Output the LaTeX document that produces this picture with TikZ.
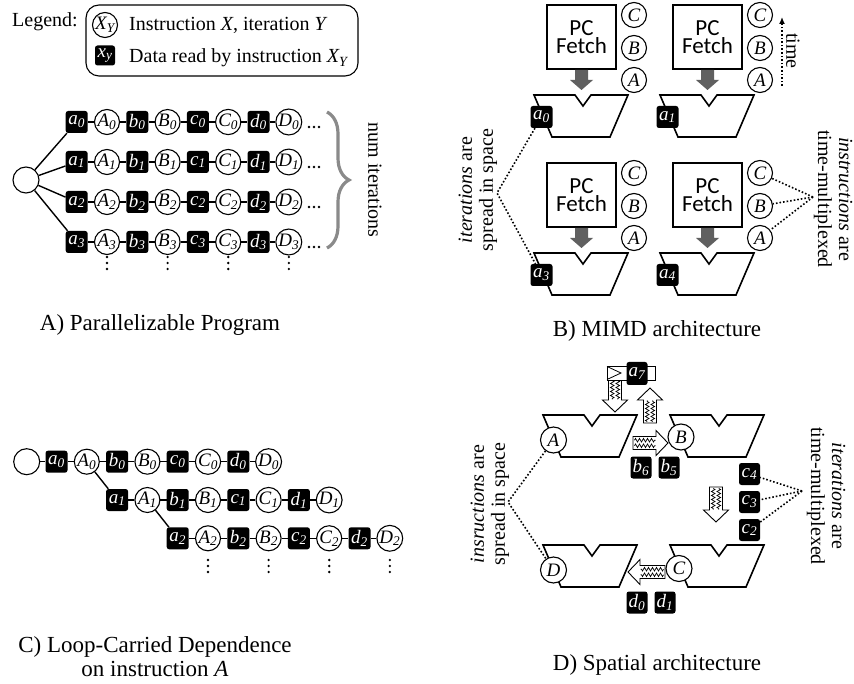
\documentclass[tikz,border=0pt]{standalone}
\usepackage{fontspec}
\setmainfont{Liberation Serif}
\newfontfamily\pcfont{Carlito}
\usetikzlibrary{arrows.meta,decorations.pathreplacing,decorations.pathmorphing}

\newcommand\sub[2]{#1\textsubscript{#2}}

\definecolor{fetchgray}{HTML}{606060}
\definecolor{bracegray}{HTML}{8A8A8A}

\tikzset{
  inst/.style={circle, draw, line width=1.1pt, fill=white, minimum size=25pt, inner sep=0pt, font=\fontsize{19}{19}\selectfont\itshape},
  datum/.style={rounded corners=2.5pt, fill=black, text=white, minimum width=22pt, minimum height=22pt, inner sep=0pt, font=\fontsize{19}{19}\selectfont\itshape},
  startc/.style={circle, draw, line width=1.1pt, fill=white, minimum size=26pt, inner sep=0pt},
  link/.style={line width=1.4pt},
  dotline/.style={dotted, line width=1.6pt},
  note/.style={font=\fontsize{20}{21}\selectfont, align=center, inner sep=0pt},
  capt/.style={font=\fontsize{23}{24}\selectfont, align=center, inner sep=0pt},
  fetchbox/.style={draw, line width=1.4pt, fill=white, font=\fontsize{23}{18.5}\pcfont, align=center, inner sep=0pt},
}

% functional unit: trapezoid with an operand notch, top-left corner at (#1,#2)
\newcommand\alu[2]{\draw[line width=1.6pt, line join=miter] ({#1},{#2}) -- ++(41,0) -- ++(8,11) -- ++(8,-11) -- ++(37,0) -- ++(-18,42) -- ++(-58,0) -- cycle;}

% hollow block arrow with a zigzag shaft: tail (#1,#2), length #3, angle #4
\newcommand\zzarrow[4]{%
  \begin{scope}[shift={(#1,#2)}, rotate=#4]
    \draw[line width=0.9pt, fill=white, line join=miter] (0,-6.5) -- ({#3-12},-6.5) -- ({#3-12},-12.5) -- (#3,0) -- ({#3-12},12.5) -- ({#3-12},6.5) -- (0,6.5) -- cycle;
    \draw[line width=0.7pt, decorate, decoration={zigzag, segment length=4pt, amplitude=1.8pt}] (1.5,-2.8) -- ({#3-12.5},-2.8);
    \draw[line width=0.7pt, decorate, decoration={zigzag, segment length=4pt, amplitude=1.8pt}] (1.5,2.8) -- ({#3-12.5},2.8);
  \end{scope}}

% one MIMD core: name, trapezoid top-left x, y, data letter, index
\newcommand\mimdunit[5]{%
  \alu{#2}{#3}
  \node[fetchbox, minimum width=69pt, minimum height=64pt] (#1-pc) at ({#2+47.5},{#3-58}) {PC\\Fetch};
  \begin{scope}[shift={({#2+47.5},{#3-25})}]
    \fill[fetchgray] (-6.5,0) -- (6.5,0) -- (6.5,10) -- (11.5,10) -- (0,20) -- (-11.5,10) -- (-6.5,10) -- cycle;
  \end{scope}
  \node[inst] (#1-C) at ({#2+100},{#3-80}) {C};
  \node[inst] (#1-B) at ({#2+100},{#3-47}) {B};
  \node[inst] (#1-A) at ({#2+100},{#3-15}) {A};
  \node[datum] (#1-d) at ({#2+7.5},{#3+22}) {\sub{#4}{#5}};
}

\begin{document}
\begin{tikzpicture}[x=1pt, y=-1pt]
\fill[white] (0,0) rectangle (854,684);
\useasboundingbox (0,0) rectangle (854,684);

% ---------------- legend ----------------
\node[draw, rounded corners=13pt, line width=1.1pt, minimum width=272pt, minimum height=71pt] (lg) at (222,40.5) {};
\node[note, anchor=base west] (lg-t) at (12,27) {Legend:};
\node[inst] (lg-c) at (105,25) {\sub{X}{Y}};
\node[datum, minimum width=20pt, minimum height=20pt] (lg-d) at (105,55.5) {\sub{x}{y}};
\node[note, anchor=base west] (lg-1) at (129,31) {Instruction \textit{X}, iteration \textit{Y}};
\node[note, anchor=base west] (lg-2) at (129,63) {Data read by instruction \textit{X\textsubscript{Y}}};

% ---------------- A) parallel program ----------------
\node[startc] (pa-s) at (26,180) {};
\foreach \row/\yy in {0/122,1/162,2/202,3/242} {
  \foreach \lc/\uc [count=\kk from 0] in {a/A,b/B,c/C,d/D} {
    \node[datum] (pa\row-\lc) at ({76.7+60.6*\kk},\yy) {\sub{\lc}{\row}};
    \node[inst] (pa\row-\uc) at ({107+60.6*\kk},\yy) {\sub{\uc}{\row}};
  }
  \draw[link] (pa-s) -- (pa\row-a);
  \foreach \p/\q in {a/A,A/b,b/B,B/c,c/C,C/d,d/D} \draw[link] (pa\row-\p) -- (pa\row-\q);
  \foreach \dx in {0,1,2} \fill ({309+5*\dx},{\yy+5}) circle (1.3pt);
}
\foreach \xx in {107,167.6,228.2,288.8}
  \foreach \dy in {0,1,2} \fill (\xx,{257+6*\dy}) circle (1.3pt);
\draw[decorate, decoration={brace, amplitude=22pt}, line width=3.2pt, bracegray] (327,112) -- (327,248);
\node[note, rotate=-90] (pa-n) at (375,180) {num iterations};
\node[capt] (pa-cap) at (160,325) {A) Parallelizable Program};

% ---------------- B) MIMD ----------------
\mimdunit{pb00}{534}{95}{a}{0}
\mimdunit{pb01}{660}{95}{a}{1}
\mimdunit{pb10}{534}{253}{a}{3}
\mimdunit{pb11}{660}{253}{a}{4}
\coordinate (tb-lo) at (782,86);
\coordinate (tb-hi) at (782,17);
\draw[dotline, -{Latex[length=7pt,width=6pt]}] (tb-lo) -- (tb-hi);
\node[note, rotate=-90] (tb-t) at (793,51) {time};
\coordinate (pb-apl) at (497,193);
\draw[dotline] (pb00-d) -- (pb-apl) -- (pb10-d);
\coordinate (pb-apr) at (813,197);
\foreach \n in {C,B,A} \draw[dotline] (pb-apr) -- (pb11-\n);
\node[note, rotate=90] (pb-l) at (478,190) {\textit{iterations} are\\spread in space};
\node[note, rotate=-90] (pb-r) at (833,199) {\textit{instructions} are\\time-multiplexed};
\node[capt] (pb-cap) at (657,331) {B) MIMD architecture};

% ---------------- C) loop-carried dependence ----------------
\node[startc] (pc-s) at (26.7,461.7) {};
\foreach \row/\yy/\xs in {0/461.7/56.5,1/500/117.1,2/538.3/177.7} {
  \foreach \lc/\uc [count=\kk from 0] in {a/A,b/B,c/C,d/D} {
    \node[datum] (pc\row-\lc) at ({\xs+60.6*\kk},\yy) {\sub{\lc}{\row}};
    \node[inst] (pc\row-\uc) at ({\xs+30.3+60.6*\kk},\yy) {\sub{\uc}{\row}};
  }
  \foreach \p/\q in {a/A,A/b,b/B,B/c,c/C,C/d,d/D} \draw[link] (pc\row-\p) -- (pc\row-\q);
}
\draw[link] (pc-s) -- (pc0-a);
\draw[link] (pc0-A) -- (pc1-a);
\draw[link] (pc1-A) -- (pc2-a);
\foreach \xx in {208,268.6,329.2,389.8}
  \foreach \dy in {0,1,2} \fill (\xx,{560+6*\dy}) circle (1.3pt);
\node[capt] (pc-cap) at (155,657) {C) Loop-Carried Dependence\\on instruction \textit{A}};

% ---------------- D) spatial ----------------
\alu{543}{415}
\alu{670}{415}
\alu{543}{545}
\alu{670}{545}
\zzarrow{633}{443}{35}{0}
\zzarrow{615}{379}{33}{-90}
\zzarrow{650}{423}{35}{90}
\zzarrow{716}{487}{35}{-90}
\zzarrow{665}{572}{37}{180}
\node[inst, minimum size=26pt] (pd-A) at (553.5,440) {A};
\node[inst, minimum size=26pt] (pd-B) at (681,437) {B};
\node[inst, minimum size=26pt] (pd-D) at (553.5,570) {D};
\node[inst, minimum size=26pt] (pd-C) at (679,568.5) {C};
\draw[line width=0.8pt, fill=white] (607,366) rectangle (655,380);
\draw[line width=0.8pt] (607,366.5) -- (621,373) -- (607,379.5);
\node[datum, minimum width=21pt, minimum height=23pt] (pd-a7) at (637,373.5) {\sub{a}{7}};
\node[datum, minimum width=21pt] (pd-b6) at (641,467.5) {\sub{b}{6}};
\node[datum, minimum width=21pt] (pd-b5) at (669,467.5) {\sub{b}{5}};
\node[datum, minimum width=21pt] (pd-c4) at (749.5,474) {\sub{c}{4}};
\node[datum, minimum width=21pt] (pd-c3) at (749.5,502) {\sub{c}{3}};
\node[datum, minimum width=21pt] (pd-c2) at (749.5,530) {\sub{c}{2}};
\node[datum, minimum width=21pt] (pd-d0) at (637,602.5) {\sub{d}{0}};
\node[datum, minimum width=21pt] (pd-d1) at (665,602.5) {\sub{d}{1}};
\coordinate (pd-apl) at (508,502);
\draw[dotline] (pd-A) -- (pd-apl) -- (pd-D);
\coordinate (pd-apr) at (802,491);
\foreach \n in {c4,c3,c2} \draw[dotline] (pd-apr) -- (pd-\n);
\node[note, rotate=90] (pd-l) at (490,504) {\textit{insructions} are\\spread in space};
\node[note, rotate=-90] (pd-r) at (826,496) {\textit{iterations} are\\time-multiplexed};
\node[capt] (pd-cap) at (657,665) {D) Spatial architecture};
\end{tikzpicture}
\end{document}
